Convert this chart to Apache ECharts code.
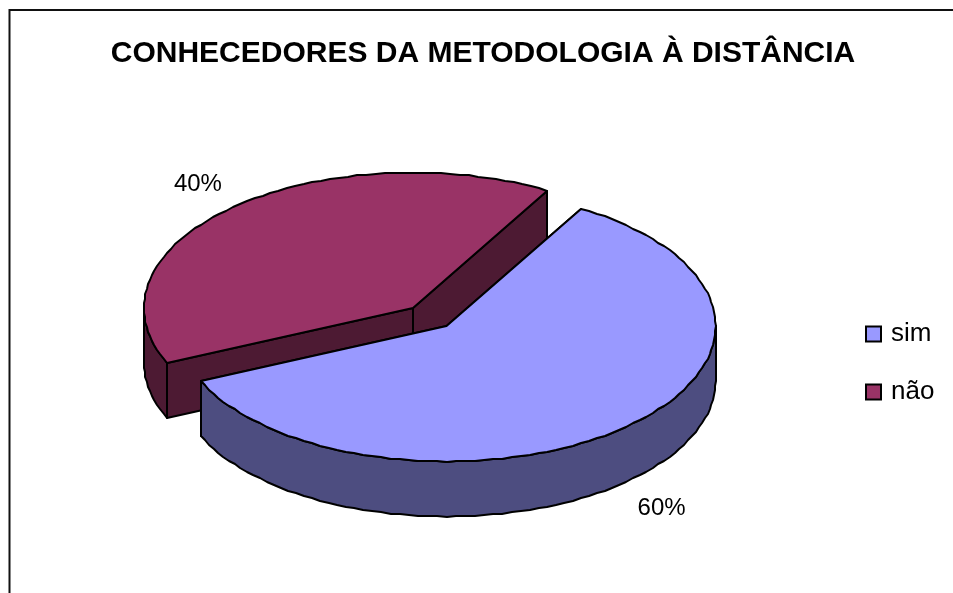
<!DOCTYPE html>
<html>
<head>
<meta charset="utf-8">
<title>Conhecedores da metodologia à distância</title>
<script src="https://cdn.jsdelivr.net/npm/echarts@6/dist/echarts.min.js"></script>
<style>
  html, body { margin: 0; padding: 0; background: #fff; }
  #grafico { width: 953px; height: 593px; }
</style>
</head>
<body>
<div id="grafico"></div>
<script>
var categorias = ['sim', 'não'];
var valores = [60, 40];

var corTopo = ['#9999FF', '#993366'];
var corLado = ['#4D4D80', '#4D1A33'];
var centros = [[446.5, 326], [413, 308]];
var RX = 269, RY = 135.5, ALTURA = 55, ANGULO_INICIAL = 30;
var FATOR_X = 1.195, FATOR_Y = 1.25;

var total = valores.reduce(function (a, b) { return a + b; }, 0);

// ponto na elipse: angulo em graus, sentido horario a partir do topo
function ponto(c, ang, dy) {
  var r = ang * Math.PI / 180;
  return [Math.round(c[0] + RX * Math.sin(r)), Math.round(c[1] - RY * Math.cos(r) + (dy || 0))];
}

function arco(c, ini, fim, dy) {
  var pts = [], a = ini;
  for (; a < fim; a += 2) pts.push(ponto(c, a, dy));
  pts.push(ponto(c, fim, dy));
  return pts;
}

function face(pts, cor) {
  return {
    type: 'polygon',
    shape: { points: pts },
    style: { fill: cor, stroke: '#000', lineWidth: 2, lineJoin: 'round' }
  };
}

function desenhaFatia(idx) {
  return function (params, api) {
    var antes = 0;
    for (var i = 0; i < idx; i++) antes += valores[i];
    var ini = ANGULO_INICIAL + antes / total * 360;
    var fim = ini + api.value(0) / total * 360;
    var c = centros[idx];
    var filhos = [];

    // paredes do corte
    [ini, fim].forEach(function (a) {
      var p = ponto(c, a);
      filhos.push(face([c, p, [p[0], p[1] + ALTURA], [c[0], c[1] + ALTURA]], corLado[idx]));
    });

    // parede externa, so a metade da frente aparece
    var f1 = Math.max(ini, 90), f2 = Math.min(fim, 270);
    if (f2 > f1) {
      var cima = arco(c, f1, f2);
      var baixo = arco(c, f1, f2, ALTURA).reverse();
      filhos.push(face(cima.concat(baixo), corLado[idx]));
    }

    // topo
    filhos.push(face([c].concat(arco(c, ini, fim)), corTopo[idx]));

    // rotulo de porcentagem
    var meio = (ini + fim) / 2 * Math.PI / 180;
    var dyRotulo = Math.cos(meio) < 0 ? ALTURA : 0;
    filhos.push({
      type: 'text',
      style: {
        text: Math.round(api.value(0) / total * 100) + '%',
        x: c[0] + RX * FATOR_X * Math.sin(meio),
        y: c[1] - RY * FATOR_Y * Math.cos(meio) + dyRotulo + 2,
        align: 'center',
        verticalAlign: 'middle',
        fill: '#000',
        font: '24px "Liberation Sans", Arial, sans-serif'
      }
    });
    return { type: 'group', children: filhos };
  };
}

var grafico = echarts.init(document.getElementById('grafico'), null, { renderer: 'canvas' });

var option = {
  animation: false,
  backgroundColor: '#fff',
  title: {
    text: 'CONHECEDORES DA METODOLOGIA À DISTÂNCIA',
    left: 478,
    top: 34,
    textAlign: 'center',
    textStyle: { fontFamily: '"Liberation Sans", Arial, sans-serif', fontSize: 30, fontWeight: 'bold', color: '#000' }
  },
  legend: {
    data: categorias,
    orient: 'vertical',
    left: 860,
    top: 316,
    itemWidth: 15,
    itemHeight: 15,
    itemGap: 32,
    selectedMode: false,
    icon: 'rect',
    textStyle: { fontFamily: '"Liberation Sans", Arial, sans-serif', fontSize: 26, color: '#000', padding: [0, 0, 0, 5] },
    itemStyle: { borderColor: '#000', borderWidth: 2 }
  },
  graphic: [{
    type: 'polyline',
    silent: true,
    shape: { points: [[9.5, 593], [9.5, 10], [953, 10]] },
    style: { fill: null, stroke: '#111', lineWidth: 2 }
  }],
  series: categorias.map(function (nome, i) {
    return {
      type: 'custom',
      name: nome,
      coordinateSystem: 'none',
      z: 10 - i,
      silent: true,
      itemStyle: { color: corTopo[i] },
      renderItem: desenhaFatia(i),
      data: [[valores[i]]]
    };
  })
};

grafico.setOption(option);
</script>
</body>
</html>
